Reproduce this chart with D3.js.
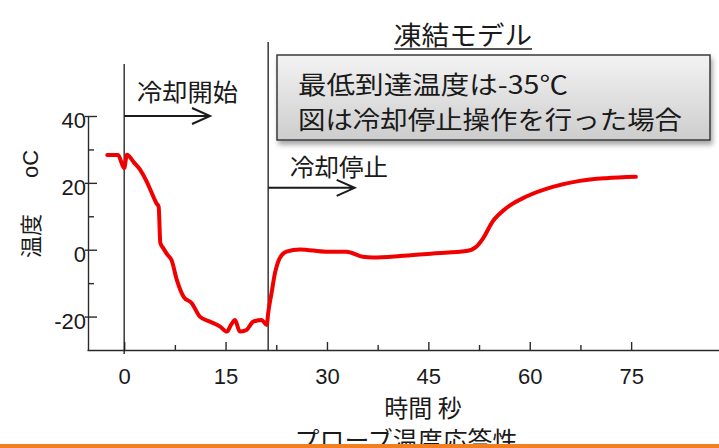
<!DOCTYPE html>
<html>
<head>
<meta charset="utf-8">
<script src="https://cdn.jsdelivr.net/npm/d3@7"></script>
<style>
  body { margin: 0; background: #fff; }
  svg { display: block; }
  .num { font-family: "Liberation Sans", Arial, sans-serif; font-size: 22px; fill: #1a1a1a; }
  .jp { font-family: "Noto Sans CJK JP", sans-serif; fill: #1a1a1a; }
</style>
</head>
<body>
<svg id="chart" width="719" height="448"></svg>
<script>
// probe temperature readings: time (s) vs temperature (degC)
const timeSec = [-2.5, -0.9, 0, 0.4, 1.4, 2.4, 3.3, 4.1, 4.8, 5.1, 5.35, 5.8, 6.4, 7.0, 7.8, 8.8,
  10.0, 11.2, 12.7, 14.2, 15.2, 15.8, 16.4, 17.1, 18.1, 19.1, 20.3, 21.1, 21.3, 21.8, 22.3, 23.0,
  24.0, 26.0, 29.9, 32.9, 33.6, 35.3, 36.8, 40.8, 45.7, 50.6, 52.1, 53.1, 54.5, 56.5, 59.5,
  63.4, 67.4, 71.3, 75.7];
const tempC = [28.3, 28.3, 24.4, 28.4, 26.2, 23.8, 20.5, 16.9, 13.8, 12.9, 2.0, 0.4, -1.5, -3.1, -9.1, -14.1,
  -16.0, -20.0, -21.5, -23.0, -24.5, -22.5, -21.0, -24.5, -24.0, -21.5, -21.0, -22.5, -19.0, -13.0, -7.1, -2.6,
  -0.6, 0.1, -0.6, -0.6, -0.9, -2.1, -2.3, -1.9, -1.1, -0.4, 0.9, 3.4, 8.4, 12.4, 15.9,
  18.8, 20.6, 21.4, 21.8];

const xMajor = [0, 15, 30, 45, 60, 75];
const xMinor = [7.5, 22.5, 37.5, 52.5, 67.5];
const yMajor = [40, 20, 0, -20];
const yMinor = [30, 10, -10];

// cooling start / stop events
const eventTimes = [0, 21.3];
const eventLabels = ["冷却開始", "冷却停止"];
const arrowEnd = [12.7, 34.1];
const arrowTemp = [40, 18.5];

const svg = d3.select("#chart");
const x = d3.scaleLinear().domain([-5.5, 88]).range([87, 719]);
const y = d3.scaleLinear().domain([-30, 40]).range([350, 116]);
const plain = d => String(d);

// x axis
const gx = svg.append("g").attr("transform", "translate(0,350)");
gx.call(d3.axisTop(x).tickValues(xMajor).tickSize(8).tickSizeOuter(0).tickFormat(""));
gx.append("g").call(d3.axisTop(x).tickValues(xMinor).tickSize(5).tickFormat(""))
  .select(".domain").remove();
const gxl = svg.append("g").attr("transform", "translate(0,366)")
  .call(d3.axisBottom(x).tickValues(xMajor).tickSize(0).tickPadding(0).tickFormat(plain));
gxl.select(".domain").remove();
gxl.selectAll("text").attr("class", "num").attr("dy", "0.8em").attr("fill", null);

// y axis
const gy = svg.append("g").attr("transform", "translate(88,0)");
gy.call(d3.axisRight(y).tickValues([]).tickSizeOuter(0));
gy.append("g").attr("transform", "translate(-3,0)")
  .call(d3.axisRight(y).tickValues(yMajor).tickSize(12).tickFormat(""))
  .select(".domain").remove();
gy.append("g").call(d3.axisRight(y).tickValues(yMinor).tickSize(6).tickFormat(""))
  .select(".domain").remove();
const gyl = svg.append("g").attr("transform", "translate(86,0)")
  .call(d3.axisLeft(y).tickValues(yMajor).tickSize(0).tickPadding(0).tickFormat(plain));
gyl.select(".domain").remove();
gyl.selectAll("text").attr("class", "num").attr("dy", "0.52em").attr("fill", null);

svg.selectAll(".domain, .tick line").attr("stroke", "#2a2a2a").attr("stroke-width", 1.4);

// event lines
const eventTop = [64, 42];
svg.selectAll(".event").data(eventTimes).join("line")
  .attr("class", "event")
  .attr("x1", d => x(d)).attr("x2", d => x(d))
  .attr("y1", (d, i) => eventTop[i]).attr("y2", (d, i) => i === 0 ? 354 : 350)
  .attr("stroke", "#1a1a1a").attr("stroke-width", 1.3);

// arrows
svg.selectAll(".arrow").data(eventTimes).join("path")
  .attr("class", "arrow")
  .attr("d", (d, i) => {
    const x0 = x(d), x1 = x(arrowEnd[i]), yy = y(arrowTemp[i]);
    return `M${x0},${yy}H${x1}M${x1 - 18},${yy - 8}L${x1},${yy}L${x1 - 18},${yy + 8}`;
  })
  .attr("fill", "none").attr("stroke", "#1a1a1a").attr("stroke-width", 2);

const labelPos = [[137, 101, 101], [290, 176, 98]];
svg.selectAll(".evlabel").data(eventLabels).join("text")
  .attr("class", "jp evlabel")
  .attr("x", (d, i) => labelPos[i][0]).attr("y", (d, i) => labelPos[i][1])
  .attr("textLength", (d, i) => labelPos[i][2]).attr("lengthAdjust", "spacingAndGlyphs")
  .attr("font-size", 24)
  .text(d => d);

// curve
const pts = timeSec.map((t, i) => [t, tempC[i]]);
svg.append("path").datum(pts)
  .attr("d", d3.line().x(d => x(d[0])).y(d => y(d[1])).curve(d3.curveMonotoneX))
  .attr("fill", "none").attr("stroke", "#f00000").attr("stroke-width", 4)
  .attr("stroke-linejoin", "round").attr("stroke-linecap", "round");

// title
svg.append("text").attr("class", "jp").attr("x", 394).attr("y", 45)
  .attr("font-size", 26).attr("textLength", 138).attr("lengthAdjust", "spacingAndGlyphs")
  .text("凍結モデル");
svg.append("line").attr("x1", 394).attr("x2", 532).attr("y1", 49).attr("y2", 49)
  .attr("stroke", "#1a1a1a").attr("stroke-width", 1.5);

// note box
const defs = svg.append("defs");
const grad = defs.append("linearGradient").attr("id", "boxGrad")
  .attr("x1", 0).attr("y1", 0).attr("x2", 0).attr("y2", 1);
grad.append("stop").attr("offset", "0%").attr("stop-color", "#f3f3f3");
grad.append("stop").attr("offset", "100%").attr("stop-color", "#cdcdcd");
const shadow = defs.append("filter").attr("id", "shadow")
  .attr("x", "-10%").attr("y", "-20%").attr("width", "130%").attr("height", "150%");
shadow.append("feDropShadow").attr("dx", 2).attr("dy", 4).attr("stdDeviation", 2.5)
  .attr("flood-color", "#000").attr("flood-opacity", 0.35);

svg.append("rect").attr("x", 277).attr("y", 55).attr("width", 433).attr("height", 85)
  .attr("fill", "url(#boxGrad)").attr("stroke", "#3a3a3a").attr("stroke-width", 1.5)
  .attr("filter", "url(#shadow)");
const noteLines = ["最低到達温度は-35℃", "図は冷却停止操作を行った場合"];
const noteWidth = [270, 384];
svg.selectAll(".note").data(noteLines).join("text")
  .attr("class", "jp note")
  .attr("x", 298).attr("y", (d, i) => 94 + i * 35)
  .attr("font-size", 25)
  .attr("textLength", (d, i) => noteWidth[i]).attr("lengthAdjust", "spacingAndGlyphs")
  .text(d => d);

// axis titles
svg.append("text").attr("class", "jp").attr("font-size", 22)
  .attr("transform", "translate(39,258) rotate(-90)").text("温度");
svg.append("text").attr("class", "num").attr("font-size", 23)
  .attr("transform", "translate(38,178) rotate(-90)").text("oC");
svg.append("text").attr("class", "jp").attr("x", 423).attr("y", 417)
  .attr("text-anchor", "middle").attr("font-size", 24).text("時間 秒");
svg.append("text").attr("class", "jp").attr("x", 406).attr("y", 449)
  .attr("text-anchor", "middle").attr("font-size", 24)
  .attr("textLength", 223).attr("lengthAdjust", "spacingAndGlyphs")
  .text("プローブ温度応答性");

svg.append("rect").attr("x", 0).attr("y", 444).attr("width", 719).attr("height", 4)
  .attr("fill", "#f47f20");
</script>
</body>
</html>
